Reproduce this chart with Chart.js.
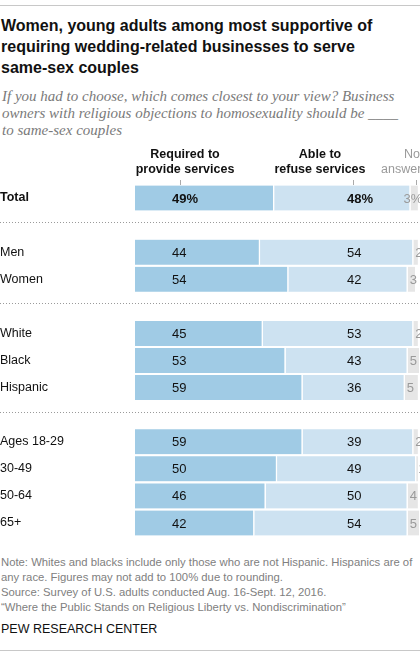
<!DOCTYPE html>
<html>
<head>
<meta charset="utf-8">
<script src="https://cdn.jsdelivr.net/npm/chart.js@4.4.0/dist/chart.umd.min.js"></script>
<style>
  html, body { margin: 0; padding: 0; background: #fff; }
  body { width: 420px; height: 660px; position: relative; overflow: hidden; font-family: "Liberation Sans", Arial, sans-serif; }
  .rule { position: absolute; left: 0; width: 420px; height: 1px; background: #c8c8c8; }
  #title { position: absolute; left: 1px; top: 15px; width: 420px; font-weight: bold; font-size: 16px; line-height: 21px; color: #111; }
  #subtitle { position: absolute; left: 2px; top: 88px; width: 420px; font-family: "Liberation Serif", serif; font-style: italic; font-size: 15px; line-height: 17px; color: #7a7a7a; white-space: nowrap; }
  #chartBox { position: absolute; left: 0; top: 140px; }
  #notes { position: absolute; left: 1px; top: 555px; width: 420px; font-size: 11.3px; line-height: 15px; color: #808080; }
  #credit { position: absolute; left: 1px; top: 622px; font-size: 12.5px; color: #111; }
</style>
</head>
<body>
<div class="rule" style="top:5px"></div>
<div id="title">Women, young adults among most supportive of<br>requiring wedding-related businesses to serve<br>same-sex couples</div>
<div id="subtitle">If you had to choose, which comes closest to your view? Business<br>owners with religious objections to homosexuality should be ____<br>to same-sex couples</div>
<div id="chartBox"><canvas id="chart" width="420" height="410"></canvas></div>
<div id="notes">Note: Whites and blacks include only those who are not Hispanic. Hispanics are of any race. Figures may not add to 100% due to rounding.<br>Source: Survey of U.S. adults conducted Aug. 16-Sept. 12, 2016.<br>“Where the Public Stands on Religious Liberty vs. Nondiscrimination”</div>
<div id="credit">PEW RESEARCH CENTER</div>
<div class="rule" style="top:650px"></div>

<script>
// data
var categories = ["Total", "Men", "Women", "White", "Black", "Hispanic", "Ages 18-29", "30-49", "50-64", "65+"];
var required = [49, 44, 54, 45, 53, 59, 59, 50, 46, 42];
var refuse = [48, 54, 42, 53, 43, 36, 39, 49, 50, 54];
var noAnswer = [3, 2, 3, 2, 5, 5, 2, 1, 4, 5];
var groupSizes = [1, 2, 3, 4];
var seriesNames = ["Required to\nprovide services", "Able to\nrefuse services", "No\nanswer"];

// build rows with a blank row between groups
var rowLabels = [], rowIndex = [], reqRows = [], refRows = [], naRows = [];
var k = 0;
groupSizes.forEach(function (size, g) {
  if (g > 0) {
    rowLabels.push(""); rowIndex.push(-1);
    reqRows.push(null); refRows.push(null); naRows.push(null);
  }
  for (var j = 0; j < size; j++, k++) {
    rowLabels.push(categories[k]); rowIndex.push(k);
    reqRows.push(required[k]); refRows.push(refuse[k]); naRows.push(noAnswer[k]);
  }
});

var FONT = "'Liberation Sans', Arial, sans-serif";

var extras = {
  id: "extras",
  beforeDatasetsDraw: function (chart) {
    var ctx = chart.ctx, y = chart.scales.y;
    ctx.save();
    ctx.strokeStyle = "#9a9a9a";
    ctx.lineWidth = 1;
    ctx.setLineDash([1, 2]);
    rowIndex.forEach(function (r, i) {
      if (r >= 0) return;
      var py = Math.round(y.getPixelForValue(i)) - 2.5;
      ctx.beginPath();
      ctx.moveTo(0, py);
      ctx.lineTo(chart.width, py);
      ctx.stroke();
    });
    ctx.restore();
  },
  afterDatasetsDraw: function (chart) {
    var ctx = chart.ctx, x = chart.scales.x, y = chart.scales.y;
    var left = chart.chartArea.left;
    ctx.save();
    ctx.textBaseline = "middle";
    rowIndex.forEach(function (r, i) {
      if (r < 0) return;
      var py = y.getPixelForValue(i) + 1;
      var pct = r === 0 ? "%" : "";
      ctx.font = (r === 0 ? "bold " : "") + "13px " + FONT;
      ctx.textAlign = "left";
      ctx.fillStyle = "#111";
      ctx.fillText(required[r] + pct, left + 37, py);
      ctx.fillText(refuse[r] + pct, left + 212, py);
      ctx.font = "13px " + FONT;
      ctx.fillStyle = "#9a9a9a";
      var naX = x.getPixelForValue(required[r] + refuse[r]) + 2;
      if (r === 0) naX -= 9;
      ctx.fillText(noAnswer[r] + pct, naX, py);
    });

    // column headers
    var heads = [
      { x: left + 50, bold: true, color: "#111", align: "center" },
      { x: left + 185, bold: true, color: "#111", align: "center" },
      { x: 404, bold: false, color: "#9a9a9a", align: "left" }
    ];
    heads.forEach(function (h, n) {
      var lines = seriesNames[n].split("\n");
      ctx.font = (h.bold ? "bold " : "") + "12.5px " + FONT;
      ctx.fillStyle = h.color;
      ctx.textAlign = h.align;
      lines.forEach(function (t, m) {
        var tx = h.x;
        if (n === 2 && m === 1) tx = 381;
        ctx.fillText(t, tx, 15 + m * 15);
      });
    });
    ctx.strokeStyle = "#aaa";
    ctx.lineWidth = 1;
    [left + 45.5, left + 218.5, 416.5].forEach(function (tx) {
      ctx.beginPath();
      ctx.moveTo(tx, 40);
      ctx.lineTo(tx, 45);
      ctx.stroke();
    });
    ctx.restore();
  }
};

var segStyle = { borderColor: "#ffffff", borderWidth: { top: 0, bottom: 0, left: 0, right: 1.5 }, borderSkipped: false, barThickness: 25 };

new Chart(document.getElementById("chart"), {
  type: "bar",
  data: {
    labels: rowLabels,
    datasets: [
      Object.assign({ label: "Required", data: reqRows, backgroundColor: "#a0cbe5" }, segStyle),
      Object.assign({ label: "Refuse", data: refRows, backgroundColor: "#cde2f1" }, segStyle),
      Object.assign({ label: "No answer", data: naRows, backgroundColor: "#e6e6e6" }, segStyle)
    ]
  },
  options: {
    indexAxis: "y",
    responsive: false,
    animation: false,
    layout: { padding: { top: 44.5, bottom: 13.5, right: 1, left: 0 } },
    plugins: { legend: { display: false }, tooltip: { enabled: false } },
    scales: {
      x: { stacked: true, min: 0, max: 100, display: false },
      y: {
        stacked: true,
        grid: { display: false },
        border: { display: false },
        afterFit: function (scale) { scale.width = 135; },
        ticks: {
          crossAlign: "far",
          padding: 0,
          color: "#111",
          font: function (c) { return { family: FONT, size: 12.5, weight: c.index === 0 ? "bold" : "normal" }; }
        }
      }
    }
  },
  plugins: [extras]
});
</script>
</body>
</html>
